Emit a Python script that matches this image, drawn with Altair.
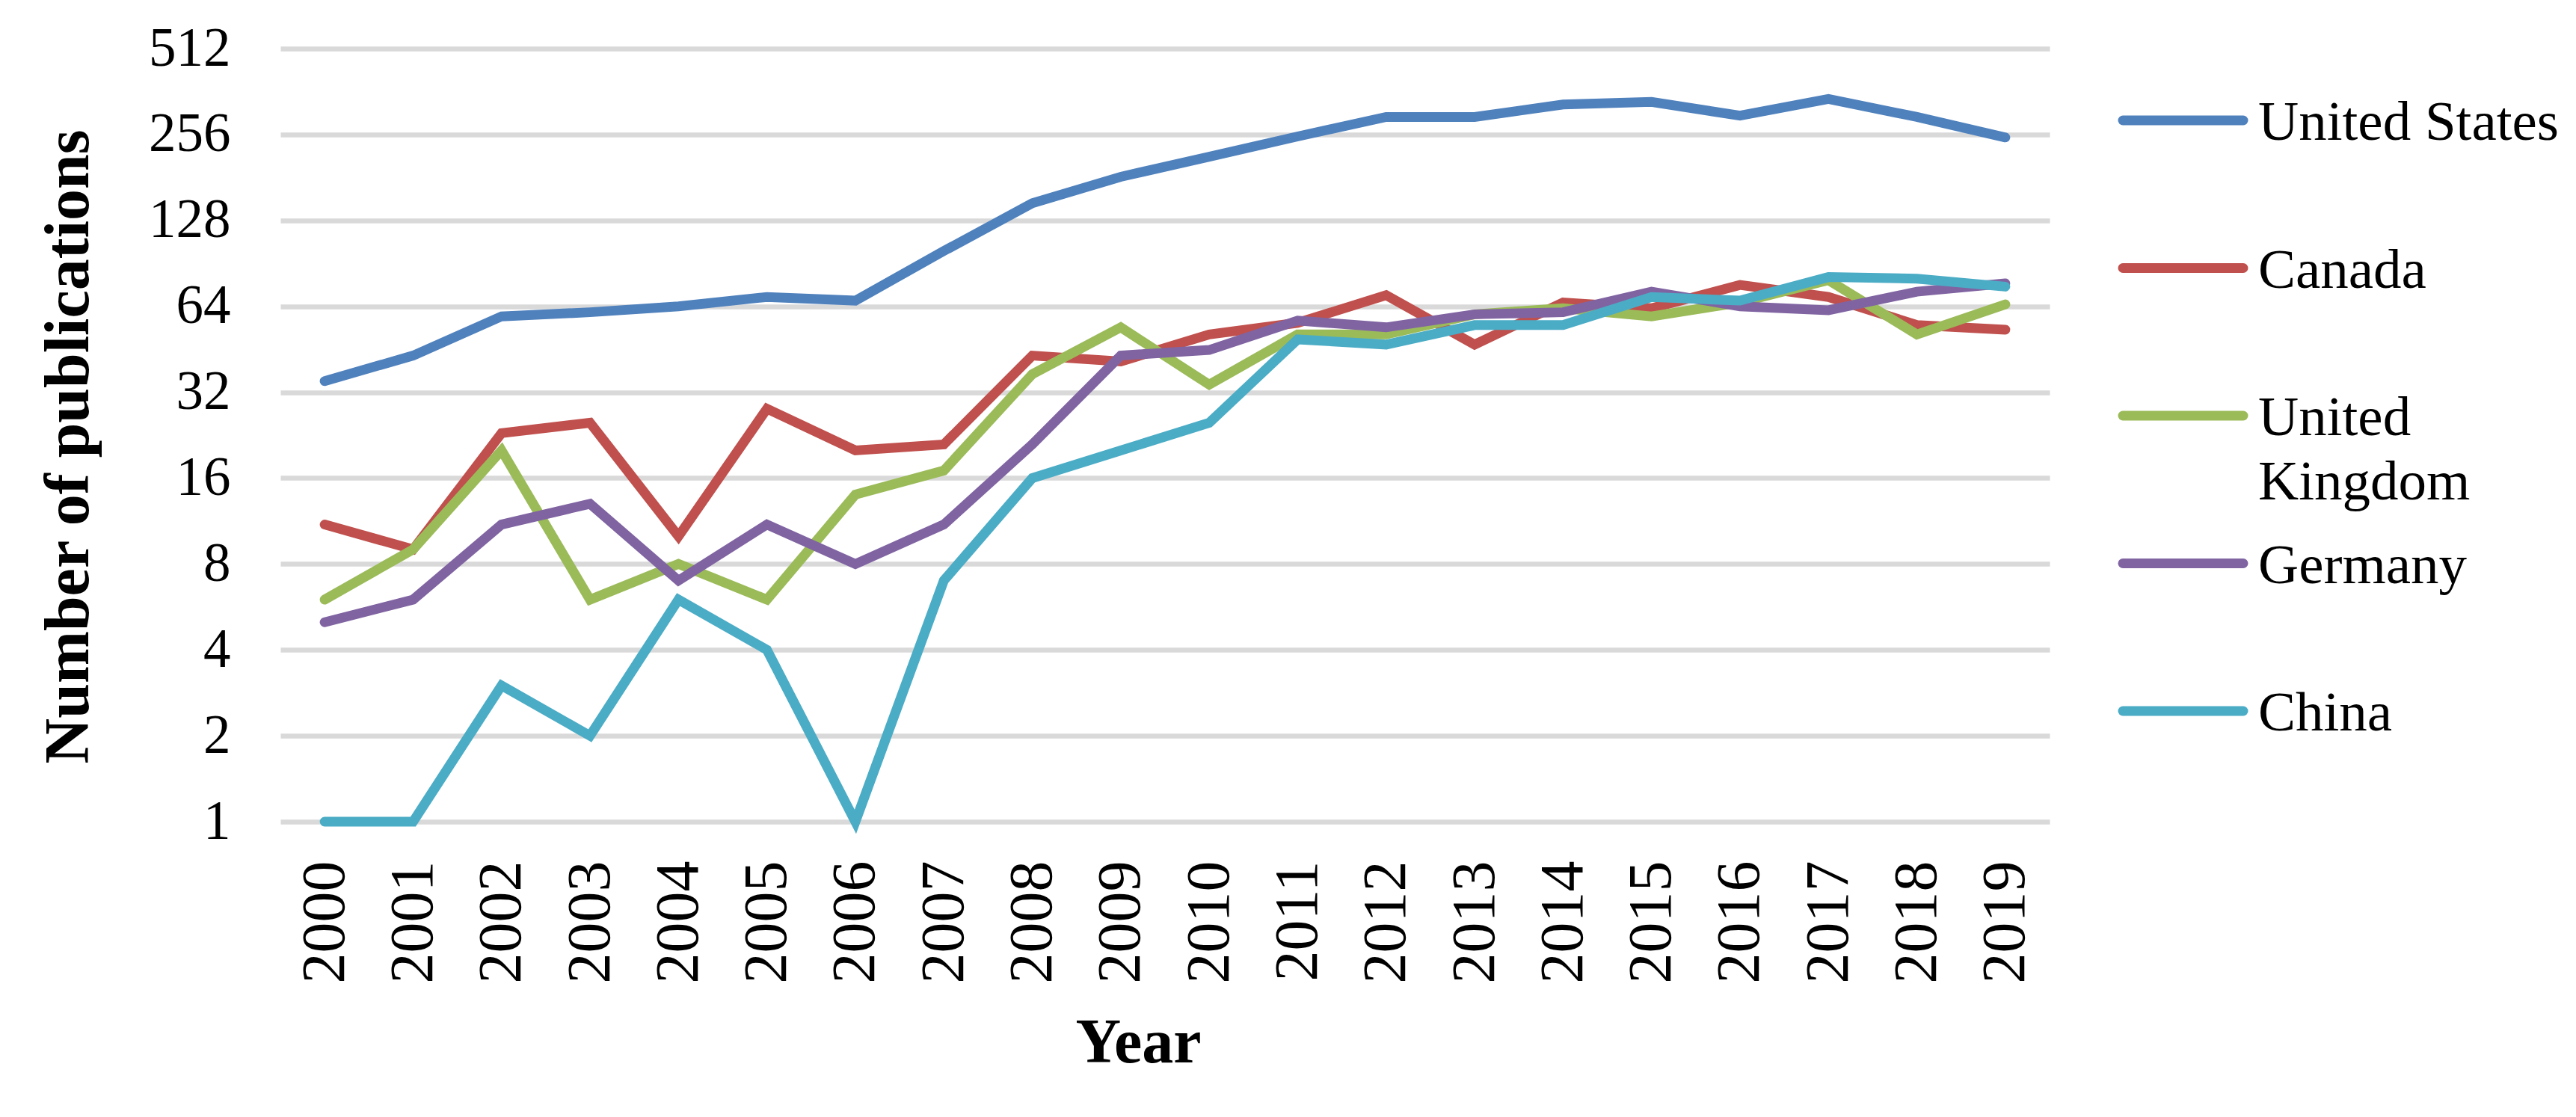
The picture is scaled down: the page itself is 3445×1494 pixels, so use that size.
import altair as alt
import pandas as pd

FONT = "Liberation Serif"

years = ["2000", "2001", "2002", "2003", "2004", "2005", "2006", "2007", "2008", "2009",
         "2010", "2011", "2012", "2013", "2014", "2015", "2016", "2017", "2018", "2019"]
countries = ["United States", "Canada", "United Kingdom", "Germany", "China"]
legend_labels = ["United States", "Canada", "United\nKingdom", "Germany", "China"]
colors = ["#4F81BD", "#C0504D", "#9BBB59", "#8064A2", "#4BACC6"]

united_states = [35, 43, 59, 61, 64, 69, 67, 100, 147, 182, 214, 252, 295, 295, 326, 333, 298, 341, 295, 250]
canada = [11, 9, 23, 25, 10, 28, 20, 21, 43, 41, 51, 56, 70, 47, 66, 63, 76, 69, 55, 53]
united_kingdom = [6, 9, 20, 6, 8, 6, 14, 17, 37, 54, 34, 51, 51, 60, 63, 59, 66, 79, 51, 65]
germany = [5, 6, 11, 13, 7, 11, 8, 11, 21, 43, 45, 57, 54, 60, 61, 72, 64, 62, 72, 77]
china = [1, 1, 3, 2, 6, 4, 1, 7, 16, 20, 25, 49, 47, 55, 55, 69, 67, 81, 80, 75]

y_ticks = [1, 2, 4, 8, 16, 32, 64, 128, 256, 512]

series = [united_states, canada, united_kingdom, germany, china]
rows = []
for c, vals in zip(countries, series):
    for yr, v in zip(years, vals):
        rows.append({"year": yr, "country": c, "count": v})
df = pd.DataFrame(rows)
leg = pd.DataFrame({"country": countries, "label": legend_labels})

color = alt.Color("country:N", scale=alt.Scale(domain=countries, range=colors), legend=None)

lines = alt.Chart(df).mark_line(strokeWidth=13, strokeCap="round", strokeJoin="miter").encode(
    x=alt.X("year:O", sort=years, axis=alt.Axis(
        title="Year", labelAngle=-90, labelFontSize=82, labelPadding=52,
        labelFont=FONT, labelColor="black",
        titleFont=FONT, titleFontSize=84, titleFontWeight="bold", titleColor="black",
        titlePadding=55, titleX=1147,
        grid=False, ticks=False, tickSize=0, domain=False)),
    y=alt.Y("count:Q", scale=alt.Scale(type="log", base=2, domain=[1, 512]), axis=alt.Axis(
        values=y_ticks, format="d", title="Number of publications",
        labelFontSize=73, labelPadding=67, labelFont=FONT, labelColor="black",
        titleFont=FONT, titleFontSize=84, titleFontWeight="bold", titleColor="black",
        titlePadding=63, titleY=532,
        grid=True, gridColor="#D9D9D9", gridWidth=6.7,
        ticks=False, tickSize=0, domain=False)),
    color=color,
)

ly = alt.Y("country:N", scale=alt.Scale(type="point", domain=countries, range=[96, 886], padding=0), axis=None)

leg_rule = alt.Chart(leg).mark_rule(strokeWidth=13, strokeCap="round").encode(
    x=alt.value(2464), x2=alt.value(2625), y=ly, color=color
)
leg_text = alt.Chart(leg).mark_text(
    align="left", baseline="alphabetic", dy=26, fontSize=75, font=FONT,
    lineBreak="\n", lineHeight=86, color="black"
).encode(x=alt.value(2645), y=ly, text="label:N")

chart = alt.layer(lines, leg_rule, leg_text).resolve_scale(y="independent").properties(
    width=2366, height=1034,
    autosize=alt.AutoSizeParams(type="none"),
    padding={"left": 367, "top": 57, "right": 690, "bottom": 380},
    background="white",
).configure_view(stroke=None)

chart.save("out.html", embed_options={"renderer": "svg", "actions": False})
